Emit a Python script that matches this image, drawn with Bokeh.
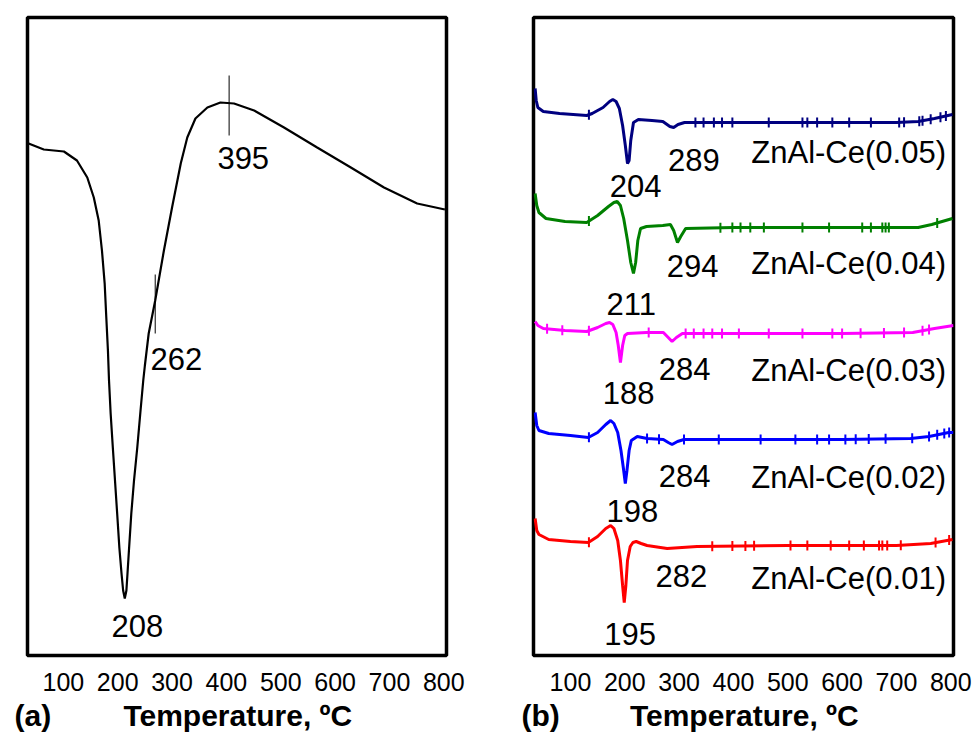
import numpy as np
from bokeh.plotting import figure
from bokeh.layouts import row
from bokeh.models import Range1d, FixedTicker, LinearAxis
from bokeh.embed import file_html
from bokeh.resources import INLINE
from bokeh.core.properties import value

FONT = "Liberation Sans"

x_ticks = [100, 200, 300, 400, 500, 600, 700, 800]
x_title = "Temperature, ºC"

# ---------------- Panel (a): DSC curve (arbitrary units) ----------------
a_temp = [36, 64, 101, 125, 144, 156, 165, 171, 176, 179, 182, 184, 187, 191, 195,
          199, 203, 207, 210, 213, 216, 218, 221, 225, 230, 236, 242, 247, 250, 257,
          269, 285, 300, 316, 328, 343, 365, 389, 414, 451, 506, 567, 629, 690, 751, 802]
a_signal = [512, 506, 504, 495, 478, 458, 435, 405, 372, 338, 305, 275, 242, 208, 175,
            142, 108, 82, 65, 57, 65, 82, 108, 142, 175, 208, 245, 275, 290, 322,
            355, 405, 448, 492, 518, 537, 548, 553, 552, 545, 528, 508, 488, 468, 452, 446]

a_marks_x = [269, 405]
a_marks_y0 = [322, 520]
a_marks_y1 = [381, 580]

a_labels = ["208", "262", "395"]
a_label_x = [236, 308, 431]
a_label_y = [30, 297, 498]

# ---------------- Panel (b): five stacked DSC curves ----------------
b_names = ["ZnAl-Ce(0.05)", "ZnAl-Ce(0.04)", "ZnAl-Ce(0.03)", "ZnAl-Ce(0.02)", "ZnAl-Ce(0.01)"]
b_colors = ["#000080", "#008000", "#ff00ff", "#0000ff", "#ff0000"]

t05 = [35, 37, 40, 50, 80, 130, 140, 160, 172, 178, 184, 190, 196, 201, 205, 208, 211,
       216, 225, 250, 270, 283, 290, 298, 310, 400, 600, 700, 740, 770, 803]
s05 = [567, 555, 548, 544, 542, 540, 542, 548, 554, 556, 554, 547, 530, 510, 492, 495, 515,
       533, 536, 535, 534, 529, 528, 531, 533, 533, 533, 533, 534, 537, 541]

t04 = [35, 38, 42, 55, 90, 130, 150, 170, 180, 186, 192, 198, 205, 211, 216, 220, 224,
       229, 240, 270, 284, 290, 297, 303, 312, 400, 600, 740, 765, 803]
s04 = [462, 450, 443, 437, 434, 433, 440, 449, 453, 454, 450, 437, 415, 393, 382, 393, 415,
       427, 429, 430, 431, 425, 413, 419, 427, 428, 428, 428, 431, 437]

t03 = [35, 40, 50, 90, 130, 150, 165, 172, 178, 184, 188, 192, 196, 200, 205, 240, 271,
       280, 287, 295, 306, 400, 600, 730, 770, 805]
s03 = [334, 330, 327, 325, 324, 328, 332, 333, 331, 323, 310, 293, 310, 320, 322, 323, 323,
       318, 314, 318, 322, 322, 322, 323, 327, 330]

t02 = [35, 38, 42, 60, 100, 133, 150, 165, 174, 180, 187, 193, 198, 201, 204, 208, 212,
       223, 241, 271, 280, 287, 297, 309, 400, 600, 726, 760, 796, 805]
s02 = [243, 230, 225, 222, 220, 218, 223, 231, 235, 232, 223, 205, 185, 172, 185, 205, 215,
       219, 217, 216, 213, 211, 214, 216, 216, 216, 217, 219, 223, 223]

t01 = [35, 38, 42, 60, 100, 133, 150, 165, 174, 180, 187, 192, 196, 199, 202, 205, 210,
       215, 221, 230, 241, 278, 333, 500, 700, 763, 803]
s01 = [137, 125, 121, 116, 114, 113, 119, 127, 130, 127, 115, 95, 70, 53, 70, 95, 109,
       113, 114, 112, 110, 107, 109, 110, 110, 112, 116]

# noise spikes (temperature positions)
spk05 = [134, 330, 345, 364, 379, 398, 465, 527, 536, 554, 582, 613, 653, 705, 714, 742, 748, 763, 781, 791]
spk04 = [134, 376, 398, 413, 431, 456, 527, 576, 637, 653, 674, 680, 686, 775]
spk03 = [57, 85, 134, 244, 312, 327, 345, 361, 379, 410, 465, 527, 582, 600, 634, 677, 714, 748, 760]
spk02 = [134, 241, 263, 309, 373, 450, 514, 554, 576, 606, 625, 649, 680, 729, 760, 775, 788, 797]
spk01 = [134, 361, 398, 422, 438, 505, 536, 579, 613, 640, 668, 674, 683, 708, 772, 797]

b_temps = [t05, t04, t03, t02, t01]
b_sigs = [s05, s04, s03, s02, s01]
b_spikes = [spk05, spk04, spk03, spk02, spk01]

b_peak_labels = ["204", "289", "211", "294", "188", "284", "198", "284", "195", "282"]
b_peak_x = [220, 327, 212, 325, 207, 310, 214, 310, 210, 304]
b_peak_y = [470, 496, 352, 390, 263, 287, 145, 180, 22, 80]
b_name_x = 612
b_name_y = [503, 392, 285, 178, 77]

# panel tags and axis title positions (temperature units)
tag_x = [44, 45]
title_x = [421, 420]
panel_tags = ["(a)", "(b)"]


def base_fig(x_start, x_end, fw, left, right, tag, tx, ttx):
    p = figure(frame_width=fw, frame_height=638, x_range=Range1d(x_start, x_end),
               y_range=Range1d(0, 638), output_backend="svg", toolbar_location=None,
               y_axis_location=None, min_border_left=left, min_border_right=right,
               min_border_top=17, min_border_bottom=84)
    p.outline_line_color = "black"
    p.outline_line_width = 3.5
    p.grid.visible = False
    p.background_fill_color = "white"
    p.border_fill_color = "white"
    ax = p.xaxis[0]
    ax.ticker = FixedTicker(ticks=x_ticks)
    ax.axis_line_color = None
    ax.major_tick_line_color = None
    ax.minor_tick_line_color = None
    ax.major_tick_out = 0
    ax.major_tick_in = 0
    ax.major_label_standoff = 17
    ax.major_label_text_font = FONT
    ax.major_label_text_font_size = "25px"
    ax.major_label_text_color = "black"

    # second row below: panel tag and axis title on the same line
    ax2 = LinearAxis(ticker=FixedTicker(ticks=[tx, ttx]),
                     major_label_overrides={tx: tag, ttx: x_title})
    ax2.axis_line_color = None
    ax2.major_tick_line_color = None
    ax2.minor_tick_line_color = None
    ax2.major_tick_out = 0
    ax2.major_tick_in = 0
    ax2.major_label_standoff = 5
    ax2.major_label_text_font = FONT
    ax2.major_label_text_font_size = "30px"
    ax2.major_label_text_font_style = "bold"
    ax2.major_label_text_color = "black"
    p.add_layout(ax2, "below")
    return p


# ---- panel (a)
pa = base_fig(34, 805, 419, 27, 34, panel_tags[0], tag_x[0], title_x[0])
pa.line(a_temp, a_signal, line_color="black", line_width=2.2)
pa.segment(x0=a_marks_x, x1=a_marks_x, y0=a_marks_y0, y1=a_marks_y1,
           line_color="black", line_width=1)
pa.text(x=a_label_x, y=a_label_y, text=a_labels, text_font=value(FONT),
        text_font_size="31px", text_align="center", text_baseline="middle",
        text_color="black")

# ---- panel (b)
pb = base_fig(32, 805, 420, 53, 20, panel_tags[1], tag_x[1], title_x[1])
for t, s, spk, c in zip(b_temps, b_sigs, b_spikes, b_colors):
    pb.line(t, s, line_color=c, line_width=3)
    yc = np.interp(spk, t, s)
    pb.segment(x0=spk, x1=spk, y0=yc - 5, y1=yc + 5, line_color=c, line_width=2)
pb.text(x=b_peak_x, y=b_peak_y, text=b_peak_labels, text_font=value(FONT),
        text_font_size="31px", text_align="center", text_baseline="middle",
        text_color="black")
pb.text(x=[b_name_x] * 5, y=b_name_y, text=b_names, text_font=value(FONT),
        text_font_size="31px", text_align="center", text_baseline="middle",
        text_color="black")

layout = row(pa, pb)
open("out.html", "w").write(file_html(layout, INLINE))
